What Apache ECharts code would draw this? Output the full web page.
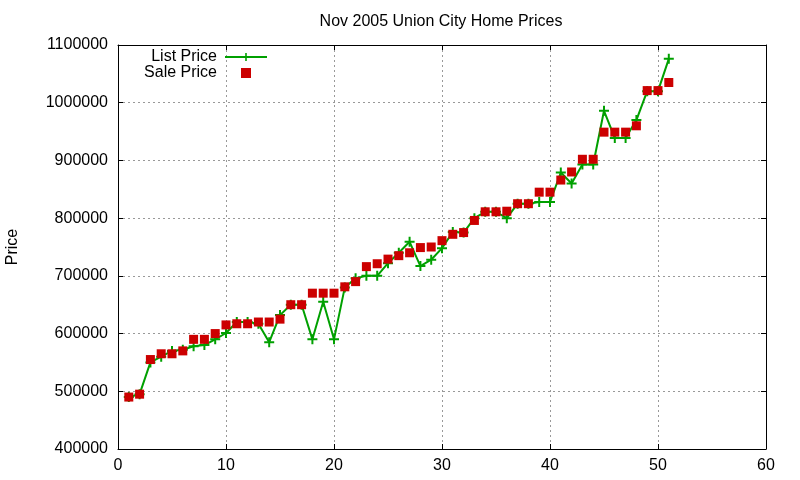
<!DOCTYPE html>
<html lang="en">
<head>
  <meta charset="UTF-8">
  <title>Nov 2005 Union City Home Prices</title>
  <script src="https://cdn.jsdelivr.net/npm/echarts@6/dist/echarts.min.js"></script>
  <style>
    html, body { margin: 0; padding: 0; background: #fff; }
  </style>
</head>
<body>
  <div id="main" style="width: 800px; height: 480px;"></div>
  <script type="text/javascript">
    // index of each home (1..51)
    var homes = [];
    for (var i = 1; i <= 51; i++) homes.push(i);

    var listPrice = [
      490000, 495000, 550000, 560000, 570000, 572000, 578000, 580000, 590000, 601000,
      620000, 620000, 617000, 585000, 632000, 650000, 650000, 590000, 655000, 590000,
      680000, 696000, 700000, 700000, 722000, 740000, 759000, 717000, 728000, 748000,
      776000, 775000, 800000, 811000, 811000, 800000, 825000, 825000, 828000, 828000,
      879000, 860000, 893000, 893000, 986000, 939000, 939000, 970000, 1020000, 1020000,
      1076000
    ];
    var salePrice = [
      490000, 495000, 555000, 565000, 565000, 570000, 590000, 590000, 600000, 615000,
      617000, 617000, 620000, 620000, 625000, 650000, 650000, 670000, 670000, 670000,
      681000, 690000, 716000, 721000, 729000, 735000, 740000, 749000, 750000, 761000,
      772000, 775000, 796000, 811000, 811000, 812000, 825000, 825000, 845000, 845000,
      866000, 880000, 902000, 902000, 949000, 949000, 949000, 960000, 1021000, 1021000,
      1035000
    ];
    var xTicks = [0, 10, 20, 30, 40, 50, 60];
    var yTicks = [400000, 500000, 600000, 700000, 800000, 900000, 1000000, 1100000];

    var FONT = 'Liberation Sans, Arial, sans-serif';
    var plus = 'path://M4,0H6V4H10V6H6V10H4V6H0V4H4Z';

    function pairs(vals) {
      return homes.map(function (h, k) { return [h, vals[k]]; });
    }

    var myChart = echarts.init(document.getElementById('main'));

    var gridLine = { show: true, lineStyle: { color: '#999', type: [2, 3], width: 1 } };
    var tick = { show: true, inside: true, length: 5, lineStyle: { color: '#000' } };
    var line = { show: true, onZero: false, lineStyle: { color: '#000', width: 1 } };

    var option = {
      backgroundColor: '#fff',
      animation: false,
      title: {
        text: 'Nov 2005 Union City Home Prices',
        left: 436,
        textAlign: 'center',
        top: 9,
        textStyle: { fontFamily: FONT, fontSize: 16, fontWeight: 'normal', color: '#000' }
      },
      legend: {
        orient: 'vertical',
        left: 139,
        top: 49,
        align: 'right',
        itemWidth: 42,
        itemHeight: 10,
        itemGap: 0,
        padding: 0,
        selectedMode: false,
        textStyle: {
          fontFamily: FONT, fontSize: 16, lineHeight: 15, color: '#000',
          width: 78, align: 'right', padding: [0, 3, 0, 0]
        },
        data: [
          { name: 'List Price' },
          { name: 'Sale Price', icon: 'path://M0,0H10V10H0Z' }
        ]
      },
      grid: { left: 118, right: 34, top: 45, bottom: 31, outerBoundsMode: 'none' },
      xAxis: [
        {
          type: 'value', min: xTicks[0], max: xTicks[xTicks.length - 1], interval: 10,
          axisLine: line, axisTick: tick, splitLine: gridLine,
          axisLabel: { fontFamily: FONT, fontSize: 16, color: '#000', margin: 9 }
        },
        {
          type: 'value', position: 'top', min: xTicks[0], max: xTicks[xTicks.length - 1], interval: 10,
          axisLine: line, axisTick: tick, splitLine: { show: false }, axisLabel: { show: false }
        }
      ],
      yAxis: [
        {
          type: 'value', min: yTicks[0], max: yTicks[yTicks.length - 1], interval: 100000,
          name: 'Price', nameLocation: 'middle', nameGap: 97, nameRotate: 90,
          nameTextStyle: { fontFamily: FONT, fontSize: 16, color: '#000' },
          axisLine: line, axisTick: tick, splitLine: gridLine,
          axisLabel: {
            fontFamily: FONT, fontSize: 16, color: '#000', margin: 10,
            formatter: function (v) { return String(v); }
          }
        },
        {
          type: 'value', position: 'right', min: yTicks[0], max: yTicks[yTicks.length - 1], interval: 100000,
          axisLine: line, axisTick: tick, splitLine: { show: false }, axisLabel: { show: false }
        }
      ],
      series: [
        {
          name: 'List Price',
          type: 'line',
          data: pairs(listPrice),
          symbol: plus,
          symbolSize: 10,
          showAllSymbol: true,
          color: '#00a000',
          lineStyle: { color: '#00a000', width: 2 },
          itemStyle: { color: '#00a000' },
          z: 2
        },
        {
          name: 'Sale Price',
          type: 'scatter',
          data: pairs(salePrice),
          symbol: 'rect',
          symbolSize: 9,
          itemStyle: { color: '#cc0000', opacity: 1 },
          z: 3
        }
      ]
    };

    myChart.setOption(option);
  </script>
</body>
</html>
